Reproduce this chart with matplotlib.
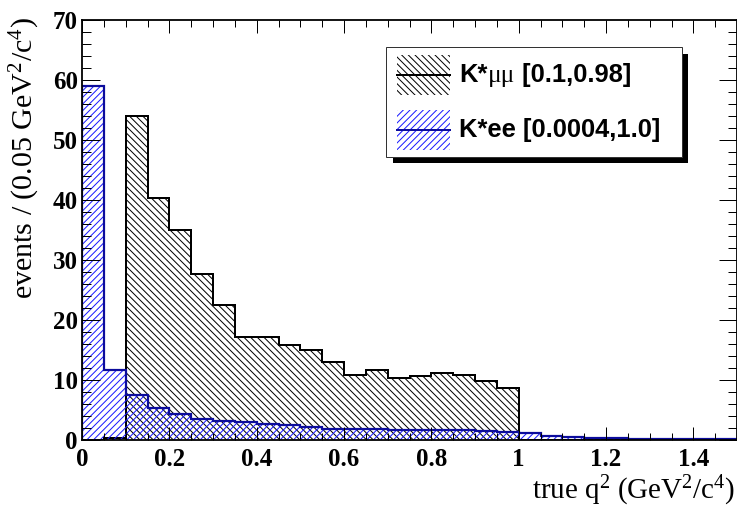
import numpy as np
import matplotlib
matplotlib.use("Agg")
import matplotlib.pyplot as plt
from matplotlib.patches import Rectangle
from matplotlib.offsetbox import TextArea, HPacker, AnchoredOffsetbox

# bin edges in q^2 (GeV^2/c^4), 0.05 wide
edges = np.round(np.arange(0, 1.5001, 0.05), 2)

# K*mumu, true q2 in [0.1, 0.98]
kmumu = [0.0, 0.4, 54.0, 40.3, 35.0, 27.7, 22.5, 17.2, 17.2, 15.9,
         15.0, 13.0, 10.8, 11.6, 10.3, 10.6, 11.1, 10.8, 9.8, 8.6,
         0, 0, 0, 0, 0, 0, 0, 0, 0, 0]
# K*ee, true q2 in [0.0004, 1.0]
kee = [59.0, 11.7, 7.5, 5.3, 4.3, 3.5, 3.1, 3.05, 2.6, 2.5,
       2.1, 1.85, 1.85, 1.8, 1.6, 1.6, 1.7, 1.6, 1.5, 1.4,
       1.2, 0.7, 0.5, 0.3, 0.3, 0.1, 0.1, 0.1, 0.1, 0.1]

leg_labels = [("K*", "\u03bc\u03bc", " [0.1,0.98]"),
              ("K*ee [0.0004,1.0]", "", "")]

DPI = 80
W, H = 737, 507
PX = 72.0 / DPI  # points per pixel

plt.rcParams['hatch.linewidth'] = 1.0 * PX
plt.rcParams['mathtext.fontset'] = 'custom'
plt.rcParams['mathtext.rm'] = 'Liberation Serif'
plt.rcParams['mathtext.it'] = 'Liberation Serif'

navy = '#0c0c9c'
hblue = '#1a1aff'
HATCH_MM = '\\' * 4
HATCH_EE = '/' * 4

fig = plt.figure(figsize=(W / DPI, H / DPI), dpi=DPI)
ax = fig.add_axes([82 / W, 1 - 440 / H, 655 / W, 420 / H])

# black K*mumu
ax.stairs(kmumu, edges, baseline=0, fill=True, facecolor='none',
          edgecolor='black', hatch=HATCH_MM, linewidth=0)
ax.stairs(kmumu, edges, baseline=0, color='black', linewidth=2 * PX)
# blue K*ee
ax.stairs(kee, edges, baseline=0, fill=True, facecolor='none',
          edgecolor=hblue, hatch=HATCH_EE, linewidth=0)
ax.stairs(kee, edges, baseline=0, color=navy, linewidth=2.2 * PX)

ax.set_xlim(0, 1.5)
ax.set_ylim(0, 70)
ax.set_xticks(np.arange(0, 1.41, 0.2))
ax.set_xticklabels(['0', '0.2', '0.4', '0.6', '0.8', '1', '1.2', '1.4'])
ax.set_xticks(np.arange(0, 1.5001, 0.05), minor=True)
ax.set_yticks(np.arange(0, 71, 10))
ax.set_yticks(np.arange(0, 71, 2), minor=True)

ax.tick_params(axis='x', which='both', direction='in', top=True, bottom=True,
               width=1 * PX, color='black')
ax.tick_params(axis='x', which='major', length=13 * PX, pad=8 * PX)
ax.tick_params(axis='x', which='minor', length=6.5 * PX)
ax.tick_params(axis='y', which='both', direction='in', left=True, right=True,
               width=1 * PX)
ax.tick_params(axis='y', which='major', length=18 * PX, pad=4 * PX)
ax.tick_params(axis='y', which='minor', length=9 * PX)
for lab in ax.get_xticklabels() + ax.get_yticklabels():
    lab.set_fontfamily('Liberation Serif')
    lab.set_fontweight('bold')
    lab.set_fontsize(25 * PX)
for sp in ax.spines.values():
    sp.set_linewidth(1.8 * PX)

# axis titles
fig.text(735 / W, 1 - 499 / H, r'true q$^{2}$ (GeV$^{2}$/c$^{4}$)',
         ha='right', va='baseline', fontsize=29 * PX, family='Liberation Serif')
fig.text(33 / W, 1 - 17 / H, r'events / (0.05 GeV$^{2}$/c$^{4}$)',
         rotation=90, rotation_mode='anchor', ha='right', va='baseline',
         fontsize=30 * PX, family='Liberation Serif')

# legend, drawn by hand in pixel coords (ROOT TLegend with shadow)
def px_box(x0, y0, x1, y1, **kw):
    return Rectangle((x0 / W, 1 - y1 / H), (x1 - x0) / W, (y1 - y0) / H,
                     transform=fig.transFigure, **kw)

fig.patches.append(px_box(393, 54, 688, 163, facecolor='black', edgecolor='none'))
fig.patches.append(px_box(386, 47, 682, 157, facecolor='white',
                          edgecolor='#333333', linewidth=1 * PX))

entries = [('black', 'black', HATCH_MM, 55, 95), (hblue, navy, HATCH_EE, 110, 150)]
for (hc, lc, hatch, y0, y1) in entries:
    fig.patches.append(px_box(397, y0, 450, y1, facecolor='none', edgecolor=hc,
                              hatch=hatch, linewidth=0))
    ym = 1 - (y0 + y1) / 2 / H
    fig.add_artist(plt.Line2D([397 / W, 450 / W], [ym, ym], color=lc,
                              linewidth=2 * PX, transform=fig.transFigure))

bold = dict(family='Liberation Sans', weight='bold', size=25.5 * PX)
sym = dict(family='Liberation Serif', size=25.5 * PX)
for (a, b, c), ybase in zip(leg_labels, [82, 137]):
    parts = [TextArea(a, textprops=bold)]
    if b:
        parts.append(TextArea(b, textprops=sym))
    if c:
        parts.append(TextArea(c, textprops=bold))
    pack = HPacker(children=parts, align='baseline', pad=0, sep=0)
    box = AnchoredOffsetbox(loc='center left', child=pack, pad=0, frameon=False,
                            bbox_to_anchor=(459 / W, 1 - (ybase - 7) / H),
                            bbox_transform=fig.transFigure, borderpad=0)
    fig.add_artist(box)

fig.savefig('out.png', dpi=DPI)
